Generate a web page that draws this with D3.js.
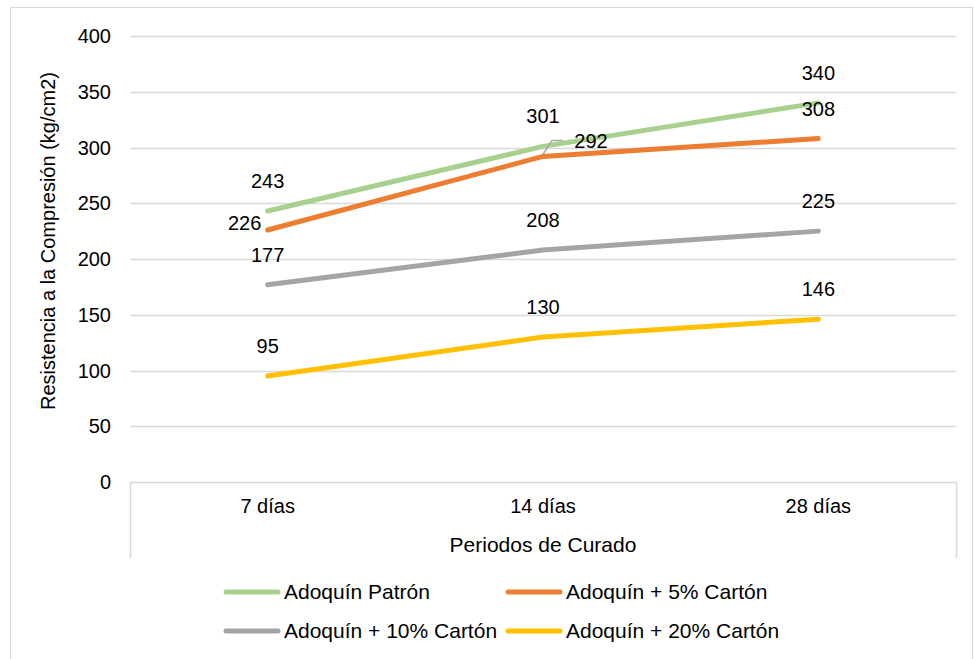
<!DOCTYPE html>
<html>
<head>
<meta charset="utf-8">
<script src="https://cdn.jsdelivr.net/npm/d3@7"></script>
<style>
  body { margin: 0; background: #fff; }
  svg text { font-family: "Liberation Sans", Arial, sans-serif; fill: #000; }
</style>
</head>
<body>
<svg id="chart" width="974" height="659"></svg>
<script>
// Curing periods (x categories)
const periods = ["7 días", "14 días", "28 días"];
// Compressive strength per mix (kg/cm2)
const seriesNames = ["Adoquín Patrón", "Adoquín + 5% Cartón", "Adoquín + 10% Cartón", "Adoquín + 20% Cartón"];
const patron = [243, 301, 340];
const carton5 = [226, 292, 308];
const carton10 = [177, 208, 225];
const carton20 = [95, 130, 146];
const yTicks = [0, 50, 100, 150, 200, 250, 300, 350, 400];
const colors = ["#A9D18E", "#ED7D31", "#A5A5A5", "#FFC000"];

const series = [patron, carton5, carton10, carton20].map((v, i) => ({ name: seriesNames[i], values: v, color: colors[i] }));

const svg = d3.select("#chart");
const plot = { left: 130, right: 956, top: 36, bottom: 482 };

// outer chart frame
svg.append("rect")
  .attr("x", 10.5).attr("y", 7.5).attr("width", 962).attr("height", 660)
  .attr("fill", "none").attr("stroke", "#d9d9d9").attr("stroke-width", 1);

const x = d3.scaleBand().domain(periods).range([plot.left, plot.right]);
const y = d3.scaleLinear().domain([0, 400]).range([plot.bottom, plot.top]);
const cx = d => x(d) + x.bandwidth() / 2;

// horizontal gridlines
svg.append("g").selectAll("line").data(yTicks).join("line")
  .attr("x1", plot.left).attr("x2", plot.right)
  .attr("y1", d => Math.round(y(d)) + 0.5).attr("y2", d => Math.round(y(d)) + 0.5)
  .attr("stroke", "#d9d9d9").attr("stroke-width", 1.5);

// category axis edge ticks
svg.append("g").selectAll("line").data([plot.left, plot.right]).join("line")
  .attr("x1", d => d + 0.5).attr("x2", d => d + 0.5)
  .attr("y1", plot.bottom).attr("y2", 558)
  .attr("stroke", "#d9d9d9").attr("stroke-width", 1.5);

// y tick labels
svg.append("g").selectAll("text").data(yTicks).join("text")
  .attr("x", 111).attr("y", d => y(d))
  .attr("dy", "0.35em").attr("text-anchor", "end")
  .attr("font-size", 20).text(d => d);

// x tick labels
svg.append("g").selectAll("text").data(periods).join("text")
  .attr("x", d => cx(d)).attr("y", 506)
  .attr("dy", "0.35em").attr("text-anchor", "middle")
  .attr("font-size", 20).text(d => d);

// axis titles
svg.append("text")
  .attr("x", 543).attr("y", 545).attr("dy", "0.35em")
  .attr("text-anchor", "middle").attr("font-size", 21)
  .text("Periodos de Curado");
svg.append("text")
  .attr("transform", `translate(48,241) rotate(-90)`)
  .attr("dy", "0.35em").attr("text-anchor", "middle").attr("font-size", 20)
  .text("Resistencia a la Compresión (kg/cm2)");

// series lines
const line = d3.line().x((d, i) => cx(periods[i])).y(d => y(d));
svg.append("g").selectAll("path").data(series).join("path")
  .attr("d", d => line(d.values))
  .attr("fill", "none").attr("stroke", d => d.color)
  .attr("stroke-width", 5).attr("stroke-linecap", "round").attr("stroke-linejoin", "round");

// leader line for the 292 label
const lp = [cx(periods[1]), y(carton5[1])];
svg.append("path")
  .attr("d", `M${lp[0]},${lp[1] - 2} L${lp[0] + 9},${lp[1] - 16} L${lp[0] + 20},${lp[1] - 16}`)
  .attr("fill", "none").attr("stroke", "#a6a6a6").attr("stroke-width", 1.5);

// data labels (default above the point, with a few shifted to avoid overlap)
const labelOffsets = {
  "1-0": [-23, -7],
  "1-1": [48, -15]
};
const labels = [];
series.forEach((s, si) => s.values.forEach((v, pi) => {
  const off = labelOffsets[`${si}-${pi}`] || [0, -30];
  labels.push({ v, x: cx(periods[pi]) + off[0], y: y(v) + off[1] });
}));
svg.append("g").selectAll("text").data(labels).join("text")
  .attr("x", d => d.x).attr("y", d => d.y)
  .attr("dy", "0.35em").attr("text-anchor", "middle")
  .attr("font-size", 20).text(d => d.v);

// legend
const legendItems = series.map((s, i) => ({ ...s, lx: i % 2 === 0 ? 224 : 506, ly: i < 2 ? 592 : 631 }));
const lg = svg.append("g").selectAll("g").data(legendItems).join("g");
lg.append("line")
  .attr("x1", d => d.lx + 2).attr("x2", d => d.lx + 54)
  .attr("y1", d => d.ly).attr("y2", d => d.ly)
  .attr("stroke", d => d.color).attr("stroke-width", 5).attr("stroke-linecap", "round");
lg.append("text")
  .attr("x", d => d.lx + 60).attr("y", d => d.ly)
  .attr("dy", "0.35em").attr("font-size", 21).text(d => d.name);
</script>
</body>
</html>
